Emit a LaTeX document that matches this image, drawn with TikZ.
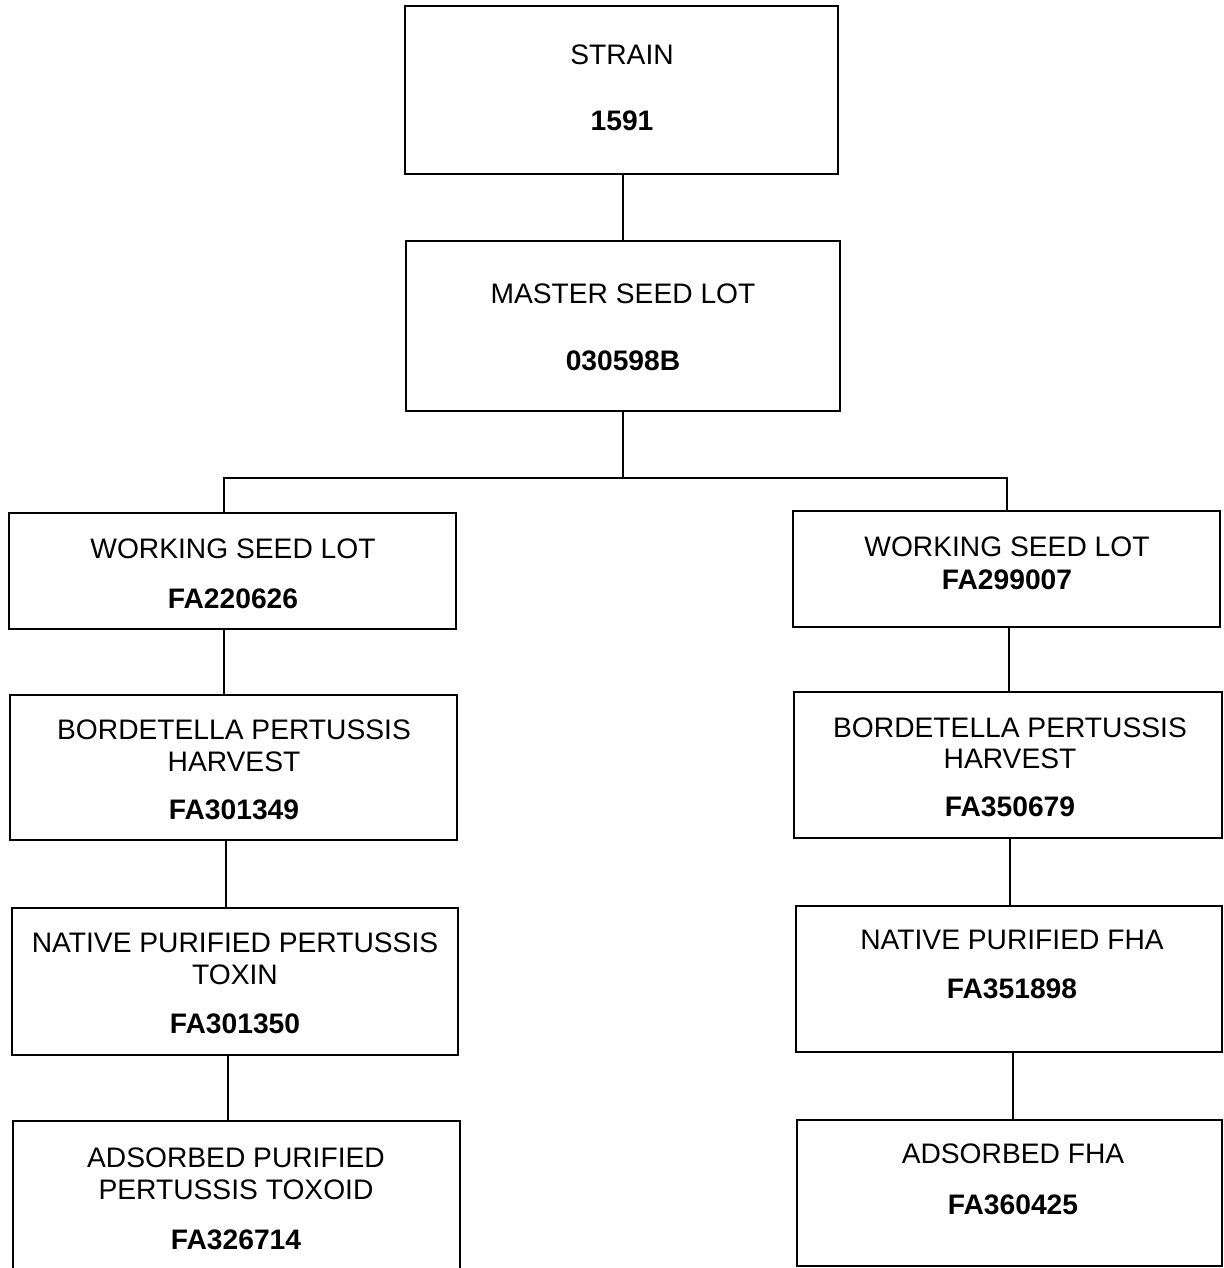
\documentclass[tikz,border=0pt]{standalone}
\usepackage{fontspec}
\setmainfont{Liberation Sans}
\usepackage{tikz}
\usetikzlibrary{positioning}
\tikzstyle{page} = [x = 1pt, y = -1pt]
\tikzstyle{lotBoxStyle} = [draw=black, line width=2pt, inner sep=0pt, rectangle]
\tikzstyle{linkLine} = [color=black, line width=1.6pt]
\tikzstyle{nameText} = [anchor=base, inner sep=0pt, font=\fontsize{28.2}{32}\selectfont]
\tikzstyle{numberText} = [anchor=base, inner sep=0pt, font=\fontsize{28.2}{32}\selectfont\bfseries]
\newcommand{\lotBox}[5]{\node [lotBoxStyle, minimum width=#4pt, minimum height=#5pt] (#1) at (#2, #3) {};}
\newcommand{\lotName}[3]{\node [nameText] at (#1, #2) {#3};}
\newcommand{\lotNumber}[3]{\node [numberText] at (#1, #2) {#3};}
\begin{document}
\begin{tikzpicture}[page]
  \useasboundingbox (0, 0) rectangle (1223, 1268);
  \clip (0, 0) rectangle (1223, 1268);

  % top of the tree
  \lotBox{strain}{621.5}{90}{433}{168}
  \lotName{622}{65}{STRAIN}
  \lotNumber{622}{131}{1591}
  \lotBox{master}{623}{326}{434}{170}
  \lotName{623}{303}{MASTER SEED LOT}
  \lotNumber{623}{370}{030598B}

  % left branch
  \lotBox{workingLeft}{232.5}{571}{447}{116}
  \lotName{233}{558}{WORKING SEED LOT}
  \lotNumber{233}{608}{FA220626}
  \lotBox{harvestLeft}{233.5}{767.5}{447}{145}
  \lotName{234}{739}{BORDETELLA PERTUSSIS}
  \lotName{234}{771}{HARVEST}
  \lotNumber{234}{819}{FA301349}
  \lotBox{toxinLeft}{235}{981.5}{446}{147}
  \lotName{235}{952}{NATIVE PURIFIED PERTUSSIS}
  \lotName{235}{984}{TOXIN}
  \lotNumber{235}{1033}{FA301350}
  \lotBox{toxoidLeft}{236.5}{1198}{447}{154}
  \lotName{236}{1167}{ADSORBED PURIFIED}
  \lotName{236}{1199}{PERTUSSIS TOXOID}
  \lotNumber{236}{1249}{FA326714}

  % right branch
  \lotBox{workingRight}{1006.5}{569}{427}{116}
  \lotName{1007}{556}{WORKING SEED LOT}
  \lotNumber{1007}{589}{FA299007}
  \lotBox{harvestRight}{1008}{765}{428}{146}
  \lotName{1010}{737}{BORDETELLA PERTUSSIS}
  \lotName{1010}{768}{HARVEST}
  \lotNumber{1010}{816}{FA350679}
  \lotBox{fhaRight}{1009}{979}{426}{146}
  \lotName{1012}{949}{NATIVE PURIFIED FHA}
  \lotNumber{1012}{998}{FA351898}
  \lotBox{adsorbedRight}{1009.5}{1193}{425}{146}
  \lotName{1013}{1163}{ADSORBED FHA}
  \lotNumber{1013}{1214}{FA360425}

  % connectors
  \coordinate (split) at (623, 478);
  \coordinate (leftLine) at (224, 478);
  \coordinate (rightLine) at (1007, 478);
  \draw [linkLine] (strain.south -| split) -- (master.north -| split);
  \draw [linkLine] (master.south -| split) -- (split);
  \draw [linkLine] (workingLeft.north -| leftLine) -- (leftLine) -- (rightLine) -- (workingRight.north -| rightLine);
  \draw [linkLine] (workingLeft.south -| leftLine) -- (harvestLeft.north -| leftLine);
  \draw [linkLine] (harvestLeft.south -| 226, 0) -- (toxinLeft.north -| 226, 0);
  \draw [linkLine] (toxinLeft.south -| 228, 0) -- (toxoidLeft.north -| 228, 0);
  \draw [linkLine] (workingRight.south -| 1009, 0) -- (harvestRight.north -| 1009, 0);
  \draw [linkLine] (harvestRight.south -| 1010, 0) -- (fhaRight.north -| 1010, 0);
  \draw [linkLine] (fhaRight.south -| 1013, 0) -- (adsorbedRight.north -| 1013, 0);
\end{tikzpicture}
\end{document}
